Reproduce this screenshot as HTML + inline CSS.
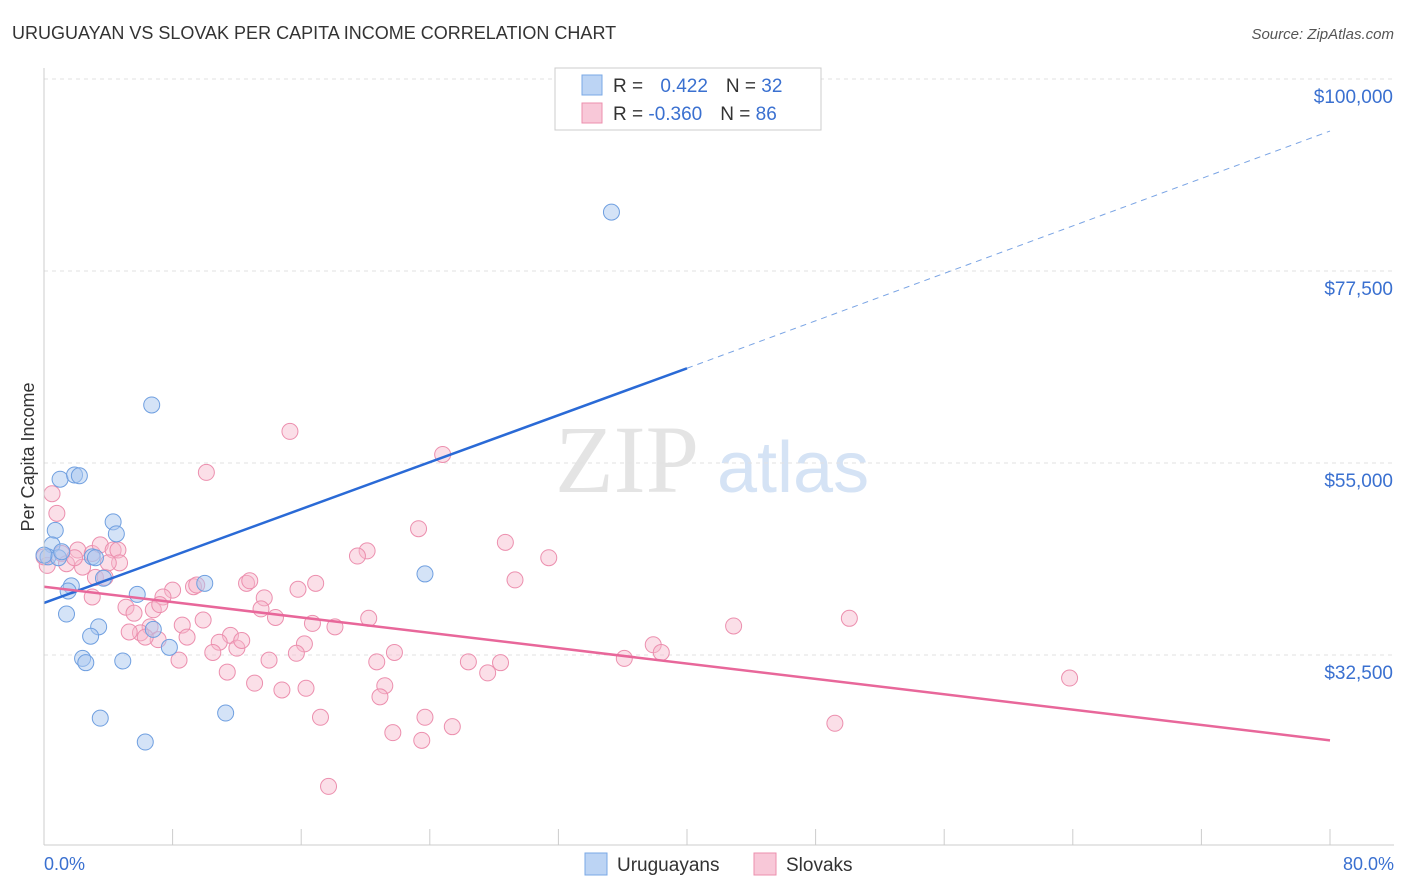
<!DOCTYPE html>
<html><head><meta charset="utf-8"><style>
body{margin:0;background:#fff;font-family:"Liberation Sans",sans-serif;}
svg{display:block}
</style></head><body>
<svg id="c" width="1406" height="892">
<text x="12" y="39" font-size="18" fill="#333">URUGUAYAN VS SLOVAK PER CAPITA INCOME CORRELATION CHART</text>
<text x="1394" y="39" font-size="15" fill="#555" text-anchor="end" font-style="italic">Source: ZipAtlas.com</text>
<text x="34" y="457" font-size="18" fill="#333" transform="rotate(-90 34 457)" text-anchor="middle">Per Capita Income</text>
<text x="555" y="492" font-size="96" fill="#e4e4e4" font-family="Liberation Serif,serif">ZIP</text>
<text x="717" y="492" font-size="72" fill="#d5e3f5">atlas</text>
<g id="grid"></g><g id="pts"></g><g id="lines"></g>
<line x1="44" y1="68" x2="44" y2="845" stroke="#ccc"/>
<line x1="44" y1="845" x2="1394" y2="845" stroke="#ccc"/>
<text x="44" y="870" font-size="18" fill="#3a70d0">0.0%</text>
<text x="1394" y="870" font-size="18" fill="#3a70d0" text-anchor="end">80.0%</text>
<g>
<rect x="555" y="68" width="266" height="62" fill="#fff" stroke="#ccc"/>
<rect x="582" y="75" width="20" height="20" fill="#bcd4f4" stroke="#7aa8e6"/>
<rect x="582" y="103" width="20" height="20" fill="#f8c8d8" stroke="#ec8fae"/>
<text x="613" y="92" font-size="19" fill="#333">R = <tspan fill="#3a70d0" dx="12">0.422</tspan><tspan dx="18">N = </tspan><tspan fill="#3a70d0">32</tspan></text>
<text x="613" y="120" font-size="19" fill="#333">R = <tspan fill="#3a70d0">-0.360</tspan><tspan dx="18">N = </tspan><tspan fill="#3a70d0">86</tspan></text>
</g>
<g>
<rect x="585" y="853" width="22" height="22" fill="#bcd4f4" stroke="#7aa8e6"/>
<text x="617" y="871" font-size="19" fill="#333">Uruguayans</text>
<rect x="754" y="853" width="22" height="22" fill="#f8c8d8" stroke="#ec8fae"/>
<text x="786" y="871" font-size="19" fill="#333">Slovaks</text>
</g>
</svg>
<script>
const yTicks=[100000,77500,55000,32500];
const yTickLabels=["$100,000","$77,500","$55,000","$32,500"];
const xTicks=[0,8,16,24,32,40,48,56,64,72,80];
const blueX=[35.3,6.7,1.0,1.9,2.2,0.7,4.3,4.5,0.5,0.25,0.9,3.0,3.2,1.7,1.5,3.7,5.8,10.0,1.4,3.4,2.9,6.8,7.8,2.4,2.6,4.9,23.7,3.5,11.3,6.3,0,1.1];
const blueY=[84.4,61.8,53.1,53.6,53.5,47.1,48.1,46.7,45.4,44.0,43.9,44.0,43.9,40.6,40.0,41.5,39.6,40.9,37.3,35.8,34.7,35.5,33.4,32.1,31.6,31.8,42.0,25.1,25.7,22.3,44.2,44.6];
const pinkX=[0.5,0.8,15.3,10.1,24.8,23.3,28.7,31.4,20.1,19.5,1.1,2.1,3.0,3.5,4.3,4.6,1.4,2.4,4.7,3.2,3.8,3.0,8.0,7.4,9.3,9.5,12.6,12.8,15.8,16.9,29.3,13.7,5.1,5.6,6.8,13.5,14.4,9.9,16.7,18.1,20.2,8.6,6.6,6.0,7.1,8.9,11.6,10.9,12.0,10.5,16.2,15.7,14.0,21.8,20.7,26.4,28.4,27.6,36.1,37.9,38.4,42.9,50.1,11.4,13.1,14.8,16.3,21.2,20.9,17.2,23.7,21.7,23.5,25.4,49.2,63.8,17.7,8.4,0.2,0,1.9,5.3,6.3,12.3,4.0,7.2];
const pinkY=[51.4,49.1,58.7,53.9,56.0,47.3,45.7,43.9,44.7,44.1,44.4,44.8,44.4,45.4,44.8,44.8,43.2,42.8,43.3,41.6,41.6,39.3,40.1,39.3,40.5,40.7,40.9,41.2,40.2,40.9,41.3,39.2,38.1,37.4,37.8,37.9,36.9,36.6,36.2,35.8,36.8,36.0,35.8,35.1,34.3,34.6,34.8,34.0,33.3,32.8,33.8,32.7,31.9,32.8,31.7,31.7,31.6,30.4,32.1,33.7,32.8,35.9,36.8,30.5,29.2,28.4,28.6,28.9,27.6,25.2,25.2,23.4,22.5,24.1,24.5,29.8,17.1,31.9,43.0,44.0,43.9,35.2,34.6,34.2,43.3,38.4];
const blueTrend=[38.6,66.1,93.9]; // y at x=0,40,80
const pinkTrend=[40.5,22.5]; // y at x=0,80
const NS="http://www.w3.org/2000/svg";
const sx=v=>44+v/80*1286;
const sy=k=>79+(100-k)/22.5*192;
function mk(t,a,p){const e=document.createElementNS(NS,t);for(const k in a)e.setAttribute(k,a[k]);p.appendChild(e);return e;}
const grid=document.getElementById('grid');
yTicks.forEach((v,i)=>{
 const y=sy(v/1000);
 const l=mk('line',{x1:44,x2:1394,y1:y,y2:y,stroke:'#e2e2e2','stroke-dasharray':'4 4'},grid);
 
 
 const t=mk('text',{x:1393,y:y+24,'font-size':19,fill:'#3a70d0','text-anchor':'end'},grid);
 t.textContent=yTickLabels[i];
 
 
});
xTicks.forEach(v=>{
 const l=mk('line',{x1:sx(v),x2:sx(v),y1:829,y2:845,stroke:'#ccc'},grid);
 
 
});
const pts=document.getElementById('pts');
pinkX.forEach((x,i)=>{
 const c=mk('circle',{cx:sx(x),cy:sy(pinkY[i]),r:8,fill:'rgba(246,184,204,0.45)',stroke:'#ec8fae','stroke-width':1},pts);
 
 
});
blueX.forEach((x,i)=>{
 const c=mk('circle',{cx:sx(x),cy:sy(blueY[i]),r:8,fill:'rgba(169,200,240,0.5)',stroke:'#6f9fe0','stroke-width':1},pts);
 
 
});
const lines=document.getElementById('lines');
let l=mk('line',{x1:sx(0),y1:sy(blueTrend[0]),x2:sx(40),y2:sy(blueTrend[1]),stroke:'#2a6ad6','stroke-width':2.5},lines);


l=mk('line',{x1:sx(40),y1:sy(blueTrend[1]),x2:sx(80),y2:sy(blueTrend[2]),stroke:'#7aa4e4','stroke-width':1,'stroke-dasharray':'6 5'},lines);


l=mk('line',{x1:sx(0),y1:sy(pinkTrend[0]),x2:sx(80),y2:sy(pinkTrend[1]),stroke:'#e8679a','stroke-width':2.5},lines);


</script>
</body></html>
